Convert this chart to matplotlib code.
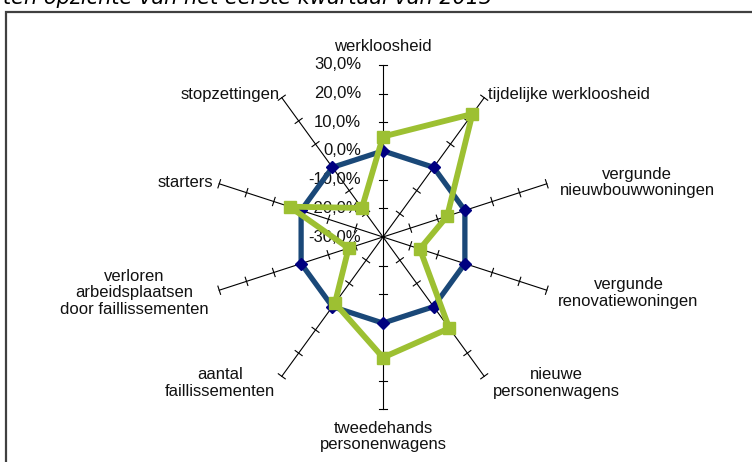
import numpy as np
import matplotlib
matplotlib.use("Agg")
import matplotlib.pyplot as plt
from matplotlib.patches import Rectangle

plt.rcParams["font.family"] = ["Liberation Sans", "DejaVu Sans"]

categories = ["werkloosheid", "tijdelijke werkloosheid", "vergunde\nnieuwbouwwoningen",
              "vergunde\nrenovatiewoningen", "nieuwe\npersonenwagens", "tweedehands\npersonenwagens",
              "aantal\nfaillissementen", "verloren\narbeidsplaatsen\ndoor faillissementen",
              "starters", "stopzettingen"]
reference = [0.0] * 10                                        # blue series (0%)
change = [5.0, 23.0, -6.5, -16.5, 9.3, 12.0, -1.5, -17.4, 4.2, -17.5]   # green series (%)
tick_vals = [30, 20, 10, 0, -10, -20, -30]
rmin, rmax = -30, 30

# label placement (radius in % units from centre, alignment)
label_cfg = [
    (66.5, "center", "center"), (57, "left", "center"), (None, "center", "center"),
    (None, "center", "center"), (None, "center", "center"), (None, "center", "center"),
    (None, "center", "center"), (None, "center", "center"), (62, "right", "center"),
    (57, "right", "center"),
]
label_xy = [None, None, (88.5, 19.0), (85.5, -19.5), (60.3, -51.0), (0.0, -69.5),
            (-56.8, -51.0), (-86.7, -19.5), None, None]

W, H = 752, 462
fig = plt.figure(figsize=(W / 100, H / 100), dpi=100)
ax = fig.add_axes([0, 0, 1, 1])
s = 2.87  # pixels per % unit
cx, cy = 383, 237
ax.set_xlim(-cx / s, (W - cx) / s)
ax.set_ylim(-(H - cy) / s, cy / s)
ax.set_aspect("equal")
ax.axis("off")

n = len(categories)
ang = np.arange(n) * 2 * np.pi / n
R = rmax - rmin
tl = 1.5
for a in ang:
    ux, uy = np.sin(a), np.cos(a)
    ax.plot([0, R * ux], [0, R * uy], color="black", lw=0.8, zorder=1)
    for tv in tick_vals:
        r = tv - rmin
        if r == 0:
            continue
        px, py = r * ux, r * uy
        ax.plot([px - tl * uy, px + tl * uy], [py + tl * ux, py - tl * ux],
                color="black", lw=0.8, zorder=1)

for tv in tick_vals:
    r = tv - rmin
    ax.text(-7.6, r, f"{tv:.1f}%".replace(".", ","), ha="right", va="center",
            fontsize=12, color="#111111", zorder=2)

def xy(vals):
    r = np.array(vals + vals[:1]) - rmin
    a = np.append(ang, ang[0])
    return r * np.sin(a), r * np.cos(a)

bx, by = xy(reference)
ax.plot(bx, by, color="#1A4878", lw=3.8, zorder=3)
ax.plot(bx[:-1], by[:-1], "D", color="#000080", ms=6.5, zorder=4, lw=0)
gx, gy = xy(change)
ax.plot(gx, gy, color="#9DC032", lw=4.2, zorder=5)
ax.plot(gx[:-1], gy[:-1], "s", color="#9DC032", ms=9, zorder=6, lw=0)

for i, (lab, cfg) in enumerate(zip(categories, label_cfg)):
    rr, ha, va = cfg
    if rr is not None:
        x, y = rr * np.sin(ang[i]), rr * np.cos(ang[i])
        if i == 1:
            x, y = 36.5, 49.5
        if i == 8:
            x, y = -59.0, 19.0
        if i == 9:
            x, y = -36.0, 49.5
    else:
        x, y = label_xy[i]
    ax.text(x, y, lab, ha=ha, va=va, fontsize=12, color="#111111",
            linespacing=1.15, multialignment="center")

fig.patches.append(Rectangle((5.5 / W, -0.1), 1.2, 1.1 - 12 / H, transform=fig.transFigure,
                             fill=False, edgecolor="#404040", lw=1.6))
fig.text(0.004, 1 - 4 / H, "ten opzichte van het eerste kwartaal van 2013", fontsize=15,
         style="italic", ha="left", va="baseline", color="black", family="DejaVu Sans")

fig.savefig("out.png", dpi=100)
